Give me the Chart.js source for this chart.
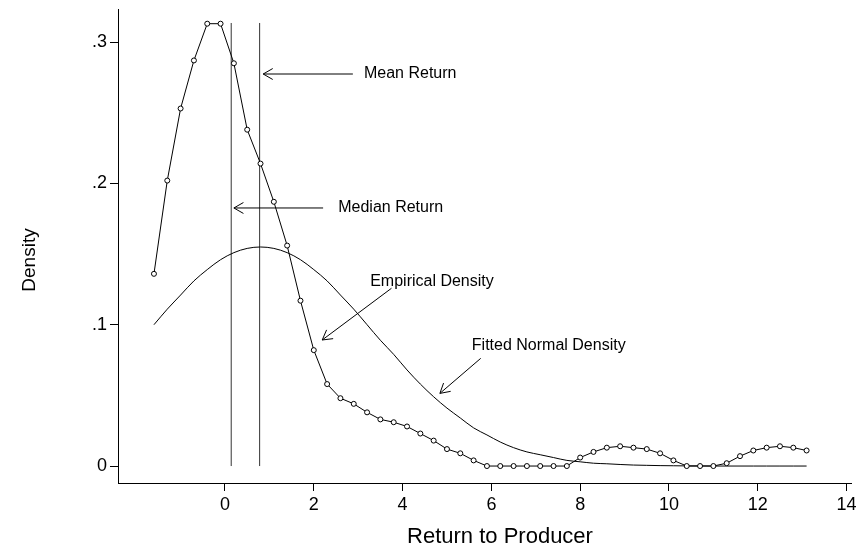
<!DOCTYPE html>
<html>
<head>
<meta charset="utf-8">
<script src="https://cdn.jsdelivr.net/npm/chart.js@4"></script>
<style>
  body { margin: 0; background: #fff; }
  #density_chart { display: block; }
</style>
</head>
<body>
<canvas id="density_chart" width="860" height="551"></canvas>
<script>
// return grid (x) shared by both curves
var returnGrid = [-1.6,-1.3,-1.0,-0.7,-0.4,-0.1,0.2,0.5,0.8,1.1,
  1.4,1.7,2.0,2.3,2.6,2.9,3.2,3.5,3.8,4.1,
  4.4,4.7,5.0,5.3,5.6,5.9,6.2,6.5,6.8,7.1,
  7.4,7.7,8.0,8.3,8.6,8.9,9.2,9.5,9.8,10.1,
  10.4,10.7,11.0,11.3,11.6,11.9,12.2,12.5,12.8,13.1];

var empiricalDensity = [0.136,0.202,0.253,0.287,0.313,0.313,0.285,0.238,0.214,0.187,
  0.156,0.117,0.082,0.058,0.048,0.044,0.038,0.033,0.031,0.028,
  0.023,0.018,0.012,0.009,0.004,0,0,0,0,0,
  0,0,0.006,0.010,0.013,0.014,0.013,0.012,0.009,0.004,
  0,0,0,0.002,0.007,0.011,0.013,0.014,0.013,0.011];

var fittedNormal = [0.100,0.111,0.121,0.131,0.139,0.146,0.151,0.154,0.155,0.154,
  0.151,0.146,0.139,0.131,0.121,0.111,0.100,0.089,0.079,0.068,
  0.058,0.049,0.041,0.034,0.027,0.022,0.017,0.013,0.010,0.008,
  0.006,0.004,0.003,0.002,0.0016,0.0011,0.0007,0.0005,0.0003,0.0002,
  0.0001,0.0001,0,0,0,0,0,0,0,0];

var medianReturn = 0.14;
var meanReturn = 0.78;
var markerTop = 0.3135;

var xTicks = [0,2,4,6,8,10,12,14];
var yTicks = [0,0.1,0.2,0.3];
var yTickLabels = ['0','.1','.2','.3'];

var xTitle = 'Return to Producer';
var yTitle = 'Density';

// labels with arrows, in data units: text anchor, arrow tail, arrow tip
var notes = [
  {text:'Mean Return', at:[3.13,0.2774], from:[2.88,0.2774], to:[0.86,0.2774]},
  {text:'Median Return', at:[2.55,0.1826], from:[2.21,0.1826], to:[0.20,0.1826]},
  {text:'Empirical Density', at:[3.27,0.1303], from:[3.75,0.1258], to:[2.19,0.0892]},
  {text:'Fitted Normal Density', at:[5.56,0.0849], from:[5.76,0.0762], to:[4.84,0.0514]}
];

var FAMILY = '"Liberation Sans", Arial, sans-serif';

function pairs(xs, ys){
  var out = [];
  for (var i = 0; i < xs.length; i++) out.push({x: xs[i], y: ys[i]});
  return out;
}

var notesPlugin = {
  id: 'notes',
  afterDatasetsDraw: function(chart){
    var ctx = chart.ctx, sx = chart.scales.x, sy = chart.scales.y;
    ctx.save();
    ctx.strokeStyle = '#000';
    ctx.fillStyle = '#000';
    ctx.lineWidth = 1;
    ctx.font = '16px ' + FAMILY;
    ctx.textBaseline = 'middle';
    ctx.textAlign = 'left';
    notes.forEach(function(n){
      var x1 = sx.getPixelForValue(n.from[0]), y1 = sy.getPixelForValue(n.from[1]);
      var x2 = sx.getPixelForValue(n.to[0]), y2 = sy.getPixelForValue(n.to[1]);
      ctx.beginPath();
      ctx.moveTo(x1, y1);
      ctx.lineTo(x2, y2);
      var a = Math.atan2(y1 - y2, x1 - x2);
      var len = 11, spread = 0.52;
      ctx.moveTo(x2 + len*Math.cos(a+spread), y2 + len*Math.sin(a+spread));
      ctx.lineTo(x2, y2);
      ctx.lineTo(x2 + len*Math.cos(a-spread), y2 + len*Math.sin(a-spread));
      ctx.stroke();
      ctx.fillText(n.text, sx.getPixelForValue(n.at[0]), sy.getPixelForValue(n.at[1]));
    });

    // axis titles
    ctx.textAlign = 'center';
    ctx.font = '22px ' + FAMILY;
    ctx.fillText(xTitle, 500, 537);
    ctx.translate(30, 260);
    ctx.rotate(-Math.PI / 2);
    ctx.font = '19px ' + FAMILY;
    ctx.fillText(yTitle, 0, 0);
    ctx.restore();
  }
};

var tickFont = {family: FAMILY, size: 18};

new Chart(document.getElementById('density_chart'), {
  type: 'scatter',
  data: {
    datasets: [
      {
        data: pairs(returnGrid, empiricalDensity),
        showLine: true,
        borderColor: '#000',
        borderWidth: 1,
        pointRadius: 2.5,
        pointBorderWidth: 1,
        pointBorderColor: '#000',
        pointBackgroundColor: '#fff'
      },
      {
        data: pairs(returnGrid, fittedNormal),
        showLine: true,
        borderColor: '#000',
        borderWidth: 1,
        pointRadius: 0,
        cubicInterpolationMode: 'monotone'
      },
      {
        data: [{x: medianReturn, y: 0}, {x: medianReturn, y: markerTop}],
        showLine: true, borderColor: '#333', borderWidth: 1, pointRadius: 0
      },
      {
        data: [{x: meanReturn, y: 0}, {x: meanReturn, y: markerTop}],
        showLine: true, borderColor: '#333', borderWidth: 1, pointRadius: 0
      }
    ]
  },
  options: {
    responsive: false,
    animation: false,
    layout: {padding: {left: 0, right: 9, top: 9, bottom: 0}},
    plugins: {legend: {display: false}, tooltip: {enabled: false}},
    scales: {
      x: {
        type: 'linear',
        min: -2.41,
        max: 14.1,
        afterBuildTicks: function(scale){ scale.ticks = xTicks.map(function(v){ return {value: v}; }); },
        afterFit: function(scale){ scale.height = 68; },
        grid: {drawOnChartArea: false, drawTicks: true, tickLength: 8, color: '#000'},
        border: {display: true, color: '#000', width: 1},
        ticks: {color: '#000', font: tickFont, padding: 3, maxRotation: 0,
          callback: function(v){ return String(v); }}
      },
      y: {
        type: 'linear',
        min: -0.012,
        max: 0.3234,
        afterBuildTicks: function(scale){ scale.ticks = yTicks.map(function(v){ return {value: v}; }); },
        afterFit: function(scale){
          scale.width = 118;
          scale.paddingTop = 0;
          scale.paddingBottom = 0;
        },
        grid: {drawOnChartArea: false, drawTicks: true, tickLength: 8, color: '#000'},
        border: {display: true, color: '#000', width: 1},
        ticks: {color: '#000', font: tickFont, padding: 3,
          callback: function(v){ var i = yTicks.indexOf(v); return i >= 0 ? yTickLabels[i] : ''; }}
      }
    }
  },
  plugins: [notesPlugin]
});
</script>
</body>
</html>
